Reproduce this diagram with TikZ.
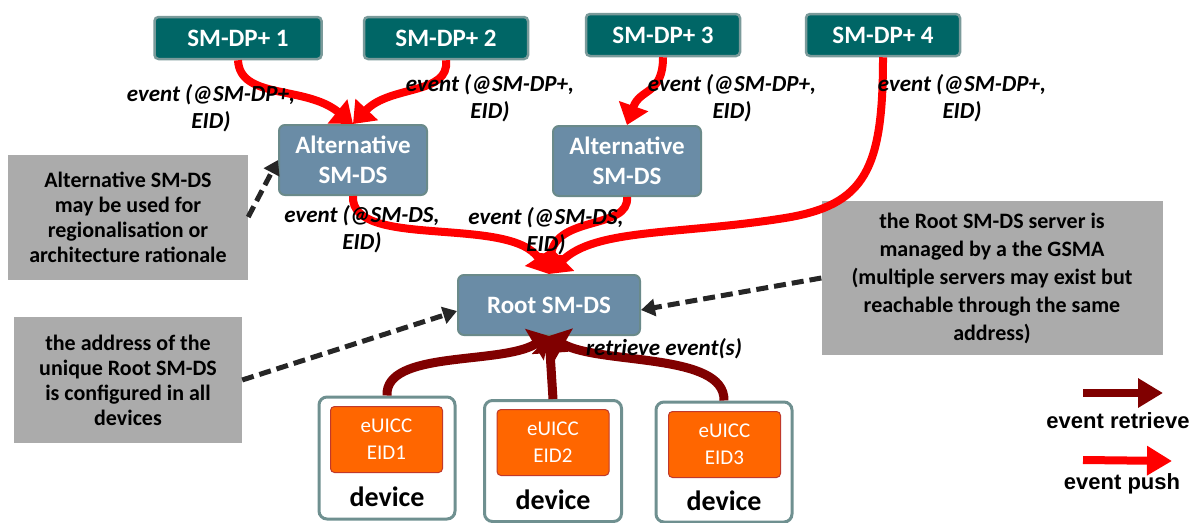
\documentclass[tikz,border=0pt]{standalone}
\usepackage{fontspec}
\setmainfont{Carlito}
\newfontfamily\arialf{Liberation Sans}
\usetikzlibrary{arrows.meta}
\definecolor{dpteal}{HTML}{006666}
\definecolor{dpborder}{HTML}{7A9A9A}
\definecolor{dsblue}{HTML}{6A8CA6}
\definecolor{dsborder}{HTML}{6A8A8A}
\definecolor{notegray}{HTML}{ABABAB}
\definecolor{euorange}{HTML}{FF6600}
\definecolor{euborder}{HTML}{C0392B}
\definecolor{devborder}{HTML}{6F9090}
\definecolor{pushred}{HTML}{FF0000}
\definecolor{retrred}{HTML}{800000}
\begin{document}
\begin{tikzpicture}[x=1pt,y=-1pt,
  dpbox/.style={draw=dpborder, line width=2.5pt, fill=dpteal, rounded corners=4pt, text=white,
    font=\fontsize{25}{29}\selectfont\bfseries, minimum height=42pt, inner sep=0pt},
  dsbox/.style={draw=dsborder, line width=2pt, fill=dsblue, rounded corners=6pt, text=white,
    font=\fontsize{25}{30}\selectfont\bfseries, align=center, inner sep=0pt},
  notebox/.style={fill=notegray, font=\fontsize{22}{25}\selectfont\bfseries, align=center, inner sep=0pt},
  devbox/.style={draw=devborder, line width=3pt, fill=white, rounded corners=8pt, inner sep=0pt},
  eubox/.style={draw=euborder, line width=1pt, fill=euorange, rounded corners=4pt, text=white,
    font=\fontsize{21}{27}\selectfont, align=center, inner sep=0pt, minimum width=112pt, minimum height=66pt},
  devlabel/.style={font=\fontsize{28}{30}\selectfont\bfseries, inner sep=0pt},
  evlabel/.style={font=\fontsize{23}{27}\selectfont\bfseries\itshape, align=center, inner sep=0pt},
  legendlabel/.style={font=\fontsize{22}{24}\selectfont\arialf\bfseries, inner sep=0pt},
  push/.style={draw=pushred, line width=8pt, -{Triangle[length=20pt,width=30pt]}},
  retr/.style={draw=retrred, line width=9pt, -{Triangle[length=17pt,width=36pt]}},
  notearrow/.style={draw=black!85, line width=5pt, dash pattern=on 12pt off 6pt, -{Triangle[length=14pt,width=17pt]}}
]
\useasboundingbox (0,0) rectangle (1198,522);

% SM-DP+ servers
\node[dpbox, minimum width=167pt] (dp1) at (238,38) {SM-DP+ 1};
\node[dpbox, minimum width=164pt] (dp2) at (446,38) {SM-DP+ 2};
\node[dpbox, minimum width=154pt] (dp3) at (663,35) {SM-DP+ 3};
\node[dpbox, minimum width=154pt] (dp4) at (883,35) {SM-DP+ 4};

% SM-DS servers
\node[dsbox, minimum width=148pt, minimum height=70pt] (alt1) at (353,160) {Alternative\\SM-DS};
\node[dsbox, minimum width=148pt, minimum height=70pt] (alt2) at (627,161) {Alternative\\SM-DS};
\node[dsbox, minimum width=182pt, minimum height=60pt] (root) at (549,305) {Root SM-DS};

% notes
\node[notebox, minimum width=240pt, minimum height=125pt] (n1) at (128,217)
  {Alternative SM-DS\\may be used for\\regionalisation or\\architecture rationale};
\node[notebox, minimum width=228pt, minimum height=126pt] (n2) at (128,380)
  {the address of the\\unique Root SM-DS\\is configured in all\\devices};
\node[notebox, minimum width=341pt, minimum height=154pt, font=\fontsize{22}{28}\selectfont\bfseries] (n3) at (992,278)
  {the Root SM-DS server is\\managed by a the GSMA\\(multiple servers may exist but\\reachable through the same\\address)};

% devices
\node[devbox, minimum width=136pt, minimum height=122pt] (dev1) at (387,458) {};
\node[eubox] (eu1) at (386.5,439.5) {eUICC\\EID1};
\node[devlabel] (dl1) at (387,497) {device};
\node[devbox, minimum width=137pt, minimum height=121pt] (dev2) at (553,461) {};
\node[eubox] (eu2) at (553,442.5) {eUICC\\EID2};
\node[devlabel] (dl2) at (553,500) {device};
\node[devbox, minimum width=136pt, minimum height=120pt] (dev3) at (724,462) {};
\node[eubox] (eu3) at (724.5,444.5) {eUICC\\EID3};
\node[devlabel] (dl3) at (724,501) {device};

% push arrows
\coordinate (bend4) at (785,218);
\draw[push] (dp1.south) .. controls (240,100) and (305,85) .. (alt1.north);
\draw[push] (dp2.south) .. controls (450,95) and (390,85) .. (alt1.north);
\draw[push] (dp3.south) .. controls (663,95) and (640,88) .. (alt2.north);
\draw[push] (dp4.south) .. controls (883,170) and (865,205) .. (bend4)
  .. controls (680,235) and (595,228) .. (root.north);
\draw[push] (alt1.south) .. controls (350,250) and (510,215) .. (root.north);
\draw[push] (alt2.south) .. controls (630,230) and (555,215) .. (root.north);

% retrieve arrows
\draw[retr] (dev1.north) .. controls (385,350) and (500,365) .. (root.south);
\draw[retr] (dev2.north) -- (root.south);
\draw[retr] (dev3.north) .. controls (725,352) and (600,365) .. (root.south);

% note arrows
\draw[notearrow] (n1.east) -- (alt1.west);
\draw[notearrow] (n2.east) -- ([yshift=-6pt]root.west);
\draw[notearrow] (n3.west) -- ([yshift=-5pt]root.east);

% event labels
\node[evlabel] (l1) at (211,108) {event (@SM-DP+,\\EID)};
\node[evlabel] (l2) at (490,98) {event (@SM-DP+,\\EID)};
\node[evlabel] (l3) at (732,98) {event (@SM-DP+,\\EID)};
\node[evlabel] (l4) at (962,98) {event (@SM-DP+,\\EID)};
\node[evlabel] (l5) at (362,229) {event (@SM-DS,\\EID)};
\node[evlabel] (l6) at (546,231) {event (@SM-DS,\\EID)};
\node[evlabel] (l7) at (664,349) {retrieve event(s)};

% legend
\coordinate (lr1) at (1083,393);
\coordinate (lr2) at (1163,393);
\draw[retr, line width=8pt, -{Triangle[length=25pt,width=28pt]}] (lr1) -- (lr2);
\node[legendlabel] (ll1) at (1118,421) {event retrieve};
\coordinate (lp1) at (1083,460);
\coordinate (lp2) at (1172,461);
\draw[push, -{Triangle[length=25pt,width=28pt]}] (lp1) -- (lp2);
\node[legendlabel] (ll2) at (1122,484) {event push};
\end{tikzpicture}
\end{document}
